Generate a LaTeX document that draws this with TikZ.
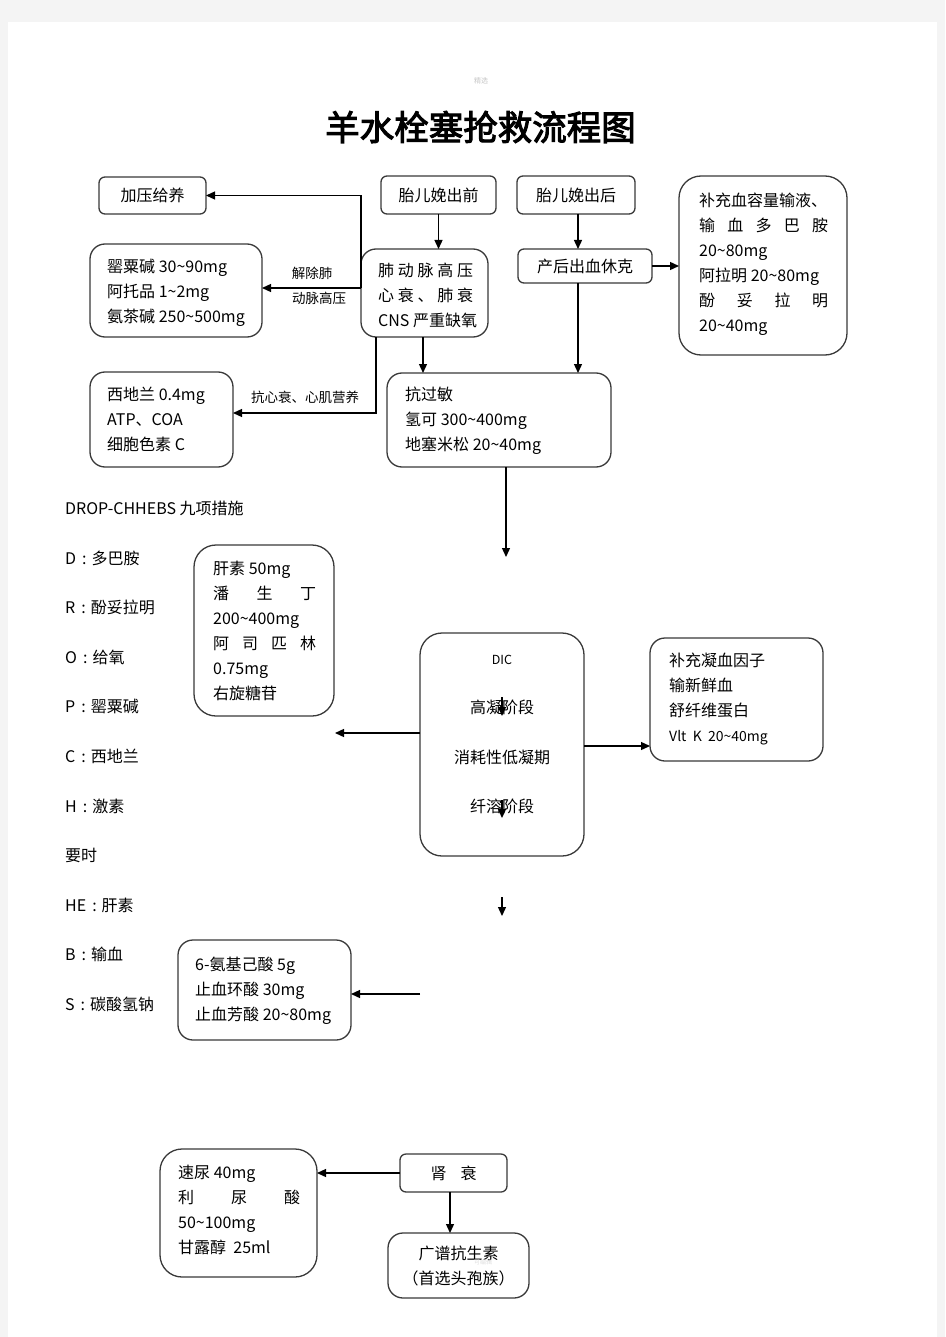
\documentclass[tikz,border=0pt]{standalone}
\usepackage{fontspec}
\setmainfont{Noto Sans CJK SC}
\newfontfamily\titlef[FakeBold=3]{Noto Sans CJK SC}
\usetikzlibrary{arrows.meta,calc}
\definecolor{edge}{HTML}{3A3A3A}
\definecolor{pagebg}{HTML}{F4F4F4}
\newcommand\lcol{\hspace{6pt}:\hspace{5pt}}
\begin{document}
\begin{tikzpicture}[x=1pt,y=-1pt,
  bx/.style={draw=edge,line width=1.3pt,inner sep=0pt,outer sep=0pt,align=center,font=\fontsize{16}{25}\selectfont},
  txt/.style={inner sep=0pt,anchor=north west,align=left,font=\fontsize{16}{25}\selectfont},
  ctxt/.style={inner sep=0pt,anchor=center,font=\fontsize{16}{25}\selectfont},
  lst/.style={inner sep=0pt,anchor=west,font=\fontsize{16}{20}\selectfont},
  lbl/.style={inner sep=0pt,anchor=center,font=\fontsize{13.5}{16}\selectfont},
  arr/.style={draw=black,line width=1.3pt,-{Triangle[length=9pt,width=8pt]}}]
% page
\fill[pagebg] (0,0) rectangle (945,1337);
\fill[white] (8,22) rectangle (937,1337);
\useasboundingbox (0,0) rectangle (945,1337);
% watermark and title
\node[inner sep=0pt,text=gray!45,font=\fontsize{7}{8}\selectfont] (wm1) at (481,81) {精选};
\node[inner sep=0pt,font=\titlef\fontsize{34.5}{40}\selectfont] (title) at (480.5,127) {羊水栓塞抢救流程图};
% top row boxes
\node[bx,minimum width=107pt,minimum height=37pt,rounded corners=6pt] (jy) at (152.5,195.5) {加压给养};
\node[bx,minimum width=115pt,minimum height=38pt,rounded corners=6pt] (tq) at (438.5,195) {胎儿娩出前};
\node[bx,minimum width=118pt,minimum height=38pt,rounded corners=6pt] (th) at (576,195) {胎儿娩出后};
\node[bx,minimum width=168pt,minimum height=179pt,rounded corners=22pt] (bc) at (763,265.5) {};
\node[txt] (bct) at (699,193) {补充血容量输液、\\
\hbox to 129pt{输\hfil 血\hfil 多\hfil 巴\hfil 胺}\\
20\textasciitilde 80mg\\
阿拉明 20\textasciitilde 80mg\\
\hbox to 129pt{酚\hfil 妥\hfil 拉\hfil 明}\\
20\textasciitilde 40mg};
\node[bx,minimum width=172pt,minimum height=93pt,rounded corners=15pt] (ys) at (176,290.5) {};
\node[txt] (yst) at (107,259) {罂粟碱 30\textasciitilde 90mg\\阿托品 1\textasciitilde 2mg\\氨茶碱 250\textasciitilde 500mg};
\node[bx,minimum width=127pt,minimum height=88pt,rounded corners=15pt] (fd) at (424.5,293) {};
\node[txt] (fdt) at (378,263) {\hbox to 95pt{肺\hfil 动\hfil 脉\hfil 高\hfil 压}\\
\hbox to 95pt{心\hfil 衰\hfil 、\hfil 肺\hfil 衰}\\
CNS 严重缺氧};
\node[bx,minimum width=134pt,minimum height=34pt,rounded corners=6pt] (ch) at (585,266) {产后出血休克};
\node[bx,minimum width=143pt,minimum height=95pt,rounded corners=15pt] (xd) at (161.5,419.5) {};
\node[txt] (xdt) at (107,387) {西地兰 0.4mg\\ATP、COA\\细胞色素 C};
\node[bx,minimum width=224pt,minimum height=94pt,rounded corners=15pt] (kg) at (499,420) {};
\node[txt] (kgt) at (405,387) {抗过敏\\氢可 300\textasciitilde 400mg\\地塞米松 20\textasciitilde 40mg};
% labels
\node[lbl] (l1) at (312,273) {解除肺};
\node[lbl] (l2) at (319,298) {动脉高压};
\node[lbl] (l3) at (305,397) {抗心衰、心肌营养};
% left list
\node[lst] (d0) at (65,508) {DROP-CHHEBS 九项措施};
\node[lst] (d1) at (65,558) {D\lcol 多巴胺};
\node[lst] (d2) at (65,607) {R\lcol 酚妥拉明};
\node[lst] (d3) at (65,657) {O\lcol 给氧};
\node[lst] (d4) at (65,706) {P\lcol 罂粟碱};
\node[lst] (d5) at (65,756) {C\lcol 西地兰};
\node[lst] (d6) at (65,806) {H\lcol 激素};
\node[lst] (d7) at (65,855) {要时};
\node[lst] (d8) at (65,905) {HE\lcol 肝素};
\node[lst] (d9) at (65,954) {B\lcol 输血};
\node[lst] (d10) at (65,1004) {S\lcol 碳酸氢钠};
% heparin box
\node[bx,minimum width=140pt,minimum height=171pt,rounded corners=22pt] (gs) at (264,630.5) {};
\node[txt] (gst) at (213,561) {肝素 50mg\\
\hbox to 103pt{潘\hfil 生\hfil 丁}\\
200\textasciitilde 400mg\\
\hbox to 103pt{阿\hfil 司\hfil 匹\hfil 林}\\
0.75mg\\
右旋糖苷};
% DIC
\node[bx,minimum width=164pt,minimum height=223pt,rounded corners=22pt] (dic) at (502,744.5) {};
\node[lbl,font=\fontsize{12.5}{14}\selectfont] (dic0) at (502,660) {DIC};
\node[ctxt] (dic1) at (502,707) {高凝阶段};
\node[ctxt] (dic2) at (502,757) {消耗性低凝期};
\node[ctxt] (dic3) at (502,806) {纤溶阶段};
\node[bx,minimum width=173pt,minimum height=123pt,rounded corners=15pt] (nx) at (736.5,699.5) {};
\node[txt] (nxt) at (669,653) {补充凝血因子\\输新鲜血\\舒纤维蛋白\\{\fontsize{14}{25}\selectfont Vlt\ \ K\ \ 20\textasciitilde 40mg}};
% antifibrinolytic box
\node[bx,minimum width=173pt,minimum height=100pt,rounded corners=15pt] (aj) at (264.5,990) {};
\node[txt] (ajt) at (195,957) {6-氨基己酸 5g\\止血环酸 30mg\\止血芳酸 20\textasciitilde 80mg};
% renal failure
\node[bx,minimum width=157pt,minimum height=128pt,rounded corners=22pt] (sn) at (238.5,1213) {};
\node[txt] (snt) at (178,1165) {速尿 40mg\\
\hbox to 122pt{利\hfil 尿\hfil 酸}\\
50\textasciitilde 100mg\\
甘露醇\ \ 25ml};
\node[bx,minimum width=107pt,minimum height=38pt,rounded corners=6pt] (sf) at (453.5,1173) {肾\hspace{14pt}衰};
\node[bx,minimum width=141pt,minimum height=65pt,rounded corners=15pt] (gp) at (458.5,1265.5) {广谱抗生素\\（首选头孢族）};
\node[inner sep=0pt,text=gray!25,font=\fontsize{6}{7}\selectfont] (wm2) at (483,1262) {可编辑};
% free coordinates
\coordinate (c1) at (506,557);
\coordinate (c2) at (335,733);
\coordinate (c7) at (420,994);
\coordinate (a1) at (502,697); \coordinate (a2) at (502,716);
\coordinate (a3) at (502,800); \coordinate (a4) at (502,818);
\coordinate (a5) at (502,897); \coordinate (a6) at (502,916);
% connectors
\draw[arr] (tq.south) -- (tq.south |- fd.north);
\draw[arr] ([yshift=5pt]fd.west) |- (jy.east);
\draw[arr] ([yshift=5pt]fd.west) -- ([yshift=5pt]fd.west -| ys.east);
\draw[arr] ([xshift=-48.5pt]fd.south) |- ([yshift=6.5pt]xd.east);
\draw[arr] ([xshift=-1.5pt]fd.south) -- ([xshift=-1.5pt]fd.south |- kg.north);
\draw[arr] ([xshift=2pt]th.south) -- ([xshift=2pt]th.south |- ch.north);
\draw[arr] (ch.east) -- (ch.east -| bc.west);
\draw[arr] ([xshift=-7pt]ch.south) -- ([xshift=-7pt]ch.south |- kg.north);
\draw[arr] ([xshift=7pt]kg.south) -- (c1);
\draw[arr] (dic.west |- c2) -- (c2);
\draw[arr] ([yshift=-1.5pt]dic.east) -- ([yshift=-1.5pt]dic.east -| nx.west);
\draw[arr] (a1) -- (a2);
\draw[arr] (a3) -- (a4);
\draw[arr] (a5) -- (a6);
\draw[arr] (c7) -- (c7 -| aj.east);
\draw[arr] (sf.west) -- (sf.west -| sn.east);
\draw[arr] ([xshift=-3.5pt]sf.south) -- ([xshift=-3.5pt]sf.south |- gp.north);
\end{tikzpicture}
\end{document}
